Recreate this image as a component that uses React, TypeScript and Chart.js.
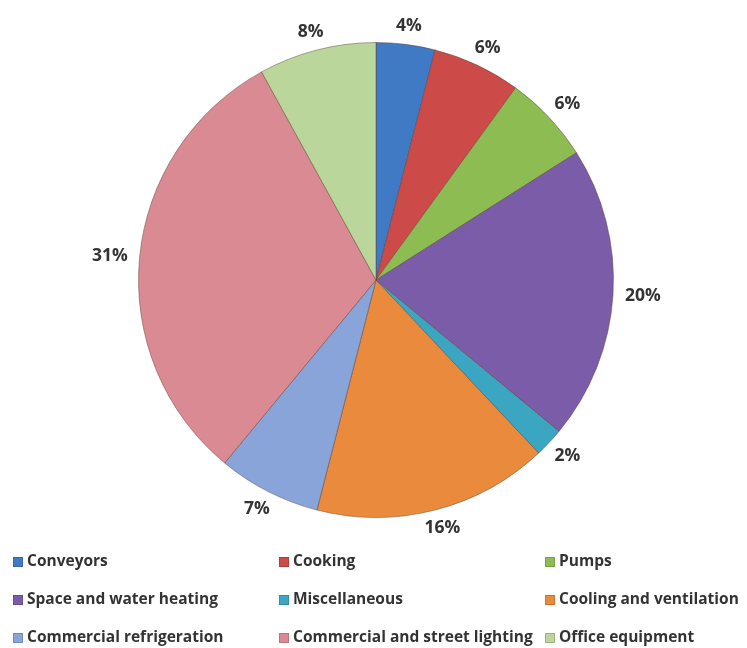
import React, { useEffect, useRef } from "react";
import { Chart, registerables } from "chart.js";

Chart.register(...registerables);

const categories = [
  "Conveyors",
  "Cooking",
  "Pumps",
  "Space and water heating",
  "Miscellaneous",
  "Cooling and ventilation",
  "Commercial refrigeration",
  "Commercial and street lighting",
  "Office equipment",
];
const shares = [4, 6, 6, 20, 2, 16, 7, 31, 8];
const sliceColors = [
  "#4079c4",
  "#cc4b48",
  "#8dbd52",
  "#7b5ca8",
  "#3ba6c1",
  "#ea8a3c",
  "#88a4d9",
  "#d98a92",
  "#bad69b",
];
const legendColumns = 3;

const labelPlugin = {
  id: "outsideLabels",
  afterDatasetsDraw(chart: any) {
    const ctx = chart.ctx;
    const meta = chart.getDatasetMeta(0);
    const data = chart.data.datasets[0].data;
    ctx.save();
    ctx.font = "bold 17.5px 'Open Sans', 'Liberation Sans', sans-serif";
    ctx.fillStyle = "#333333";
    ctx.textAlign = "center";
    ctx.textBaseline = "middle";
    meta.data.forEach((arc: any, i: number) => {
      const p = arc.getProps(["x", "y", "startAngle", "endAngle", "outerRadius"], true);
      const mid = (p.startAngle + p.endAngle) / 2;
      const txt = data[i] + "%";
      const w = ctx.measureText(txt).width;
      const h = 14;
      const d = p.outerRadius + 10;
      const x = p.x + Math.cos(mid) * d + Math.cos(mid) * (w / 2 + 2);
      const y = p.y + Math.sin(mid) * d + Math.sin(mid) * (h / 2 + 2);
      ctx.fillText(txt, x, y);
    });
    ctx.restore();
  },
};

const legendPlugin = {
  id: "gridLegend",
  afterDraw(chart: any) {
    const ctx = chart.ctx;
    const labels = chart.data.labels as string[];
    const colors = chart.data.datasets[0].backgroundColor as string[];
    const colX = [13, 279, 545];
    const rowY = [562, 600, 638];
    ctx.save();
    ctx.font = "bold 15.5px 'Open Sans', 'Liberation Sans', sans-serif";
    ctx.textBaseline = "middle";
    ctx.textAlign = "left";
    labels.forEach((lab, i) => {
      const c = i % legendColumns;
      const r = Math.floor(i / legendColumns);
      const x = colX[c];
      const y = rowY[r];
      ctx.fillStyle = colors[i];
      ctx.fillRect(x, y - 5, 10, 10);
      ctx.strokeStyle = "rgba(0,0,0,0.15)";
      ctx.lineWidth = 1;
      ctx.strokeRect(x + 0.5, y - 4.5, 9, 9);
      ctx.fillStyle = "#333333";
      ctx.fillText(lab, x + 14, y);
    });
    ctx.restore();
  },
};

export default function App() {
  const ref = useRef<HTMLCanvasElement>(null);
  useEffect(() => {
    if (!ref.current) return;
    const chart = new Chart(ref.current, {
      type: "pie",
      data: {
        labels: categories,
        datasets: [
          {
            data: shares,
            backgroundColor: sliceColors,
            borderColor: "rgba(90,60,50,0.45)",
            borderWidth: 1,
          },
        ],
      },
      options: {
        animation: false,
        responsive: false,
        maintainAspectRatio: false,
        layout: { padding: { left: 138, right: 133, top: 42, bottom: 130 } },
        plugins: {
          legend: { display: false },
          tooltip: { enabled: false },
        },
      },
      plugins: [labelPlugin, legendPlugin],
    });
    return () => chart.destroy();
  }, []);
  return (
    <div style={{ position: "absolute", left: 0, top: 0, width: 747, height: 648, background: "#fff" }}>
      <canvas ref={ref} width={747} height={648} style={{ width: 747, height: 648 }} />
    </div>
  );
}
